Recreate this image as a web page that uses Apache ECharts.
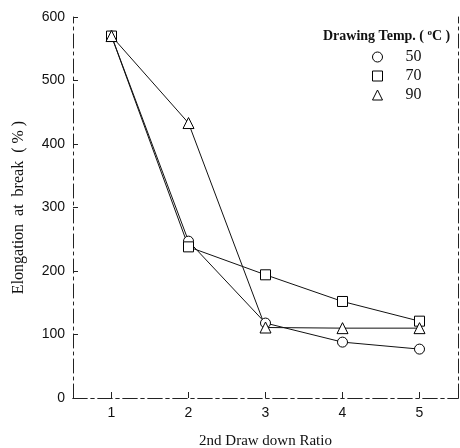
<!DOCTYPE html>
<html>
<head>
<meta charset="utf-8">
<script src="https://cdn.jsdelivr.net/npm/echarts@6/dist/echarts.min.js"></script>
<style>
html,body{margin:0;padding:0;background:#fff;}
#chart{width:460px;height:448px;}
</style>
</head>
<body>
<div id="chart"></div>
<script>
var ratios = ['1', '2', '3', '4', '5'];
var temp50 = [570, 247, 118, 88, 77];
var temp70 = [570, 238, 194, 152, 121];
var temp90 = [570, 433, 111, 110, 110];
var yTicks = [0, 100, 200, 300, 400, 500, 600];

var chart = echarts.init(document.getElementById('chart'));

var boxLine = { show: true, lineStyle: { color: '#222', width: 1, type: [14, 4, 3, 4] } };
var hollow = { color: '#fff', borderColor: '#000', borderWidth: 1 };

function mkSeries(name, data, symbol) {
    return {
        name: name,
        type: 'line',
        data: data,
        symbol: symbol,
        symbolSize: symbol == 'triangle' ? 11 : 10,
        showAllSymbol: true,
        itemStyle: hollow,
        lineStyle: { color: '#111', width: 1 },
        emphasis: { disabled: true },
        z: 3
    };
}

chart.setOption({
    animation: false,
    title: {
        text: 'Drawing Temp. ( {s|o}C )',
        left: 318,
        top: 23,
        textStyle: {
            fontFamily: 'Liberation Serif',
            fontWeight: 'bold',
            fontSize: 14,
            color: '#111',
            rich: { s: { fontSize: 9, verticalAlign: 'top', fontWeight: 'bold', padding: [0, 0, 7, 0], fontFamily: 'Liberation Serif' } }
        }
    },
    legend: {
        orient: 'vertical',
        left: 367,
        top: 44,
        itemWidth: 10,
        itemHeight: 10,
        itemGap: 3,
        textStyle: { fontFamily: 'Liberation Serif', fontSize: 16, color: '#111', padding: [0, 0, 0, 18] },
        data: [
            { name: '50', icon: 'circle', itemStyle: hollow },
            { name: '70', icon: 'rect', itemStyle: hollow },
            { name: '90', icon: 'triangle', itemStyle: hollow }
        ]
    },
    grid: { left: 73, right: 2, top: 17, bottom: 50, outerBoundsMode: 'none', containLabel: false },
    xAxis: [
        {
            type: 'category',
            data: ratios,
            boundaryGap: true,
            name: '2nd Draw down Ratio',
            nameLocation: 'middle',
            nameGap: 36,
            nameTextStyle: { fontFamily: 'Liberation Serif', fontSize: 15, color: '#111' },
            axisLine: boxLine,
            axisTick: { show: true, inside: true, alignWithLabel: true, length: 6, lineStyle: { color: '#222' } },
            axisLabel: { fontFamily: 'Liberation Sans', fontSize: 14, color: '#111', margin: 8 },
            splitLine: { show: false }
        },
        {
            type: 'category',
            data: ratios,
            position: 'top',
            axisLine: boxLine,
            axisTick: { show: false },
            axisLabel: { show: false }
        }
    ],
    yAxis: [
        {
            type: 'value',
            min: 0,
            max: 600,
            interval: 100,
            name: 'Elongation  at  break  ( % )',
            nameLocation: 'middle',
            nameGap: 46,
            nameTextStyle: { fontFamily: 'Liberation Serif', fontSize: 16, color: '#111' },
            axisLine: boxLine,
            axisTick: { show: true, inside: true, length: 5, lineStyle: { color: '#222' } },
            axisLabel: {
                fontFamily: 'Liberation Sans', fontSize: 14, color: '#111', margin: 8,
                formatter: function (v) { return yTicks.indexOf(v) >= 0 ? String(v) : ''; }
            },
            splitLine: { show: false }
        },
        {
            type: 'value',
            min: 0,
            max: 600,
            interval: 100,
            position: 'right',
            axisLine: boxLine,
            axisTick: { show: false },
            axisLabel: { show: false },
            splitLine: { show: false }
        }
    ],
    series: [
        mkSeries('50', temp50, 'circle'),
        mkSeries('70', temp70, 'rect'),
        mkSeries('90', temp90, 'triangle')
    ]
});
</script>
</body>
</html>
